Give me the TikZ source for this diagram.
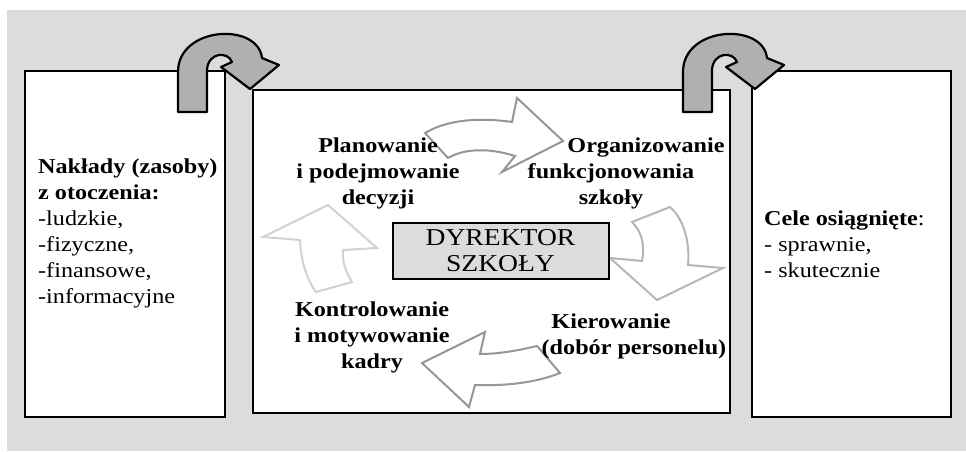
\documentclass[tikz,border=0pt]{standalone}
\usepackage{fontspec}
\setmainfont{Liberation Serif}[FakeStretch=1.14]

\definecolor{bggray}{RGB}{220,220,220}
\definecolor{loopgray}{RGB}{176,176,176}
\definecolor{darkrim}{RGB}{150,150,150}
\definecolor{midrim}{RGB}{182,182,182}
\definecolor{lightrim}{RGB}{210,210,210}

\begin{document}
\begin{tikzpicture} [
            x=1pt,
            y=-1pt,
            panel/.style = {draw=black, line width=2.5pt, fill=white},
            loop arrow/.style = {draw=black, line width=2.2pt, fill=loopgray, line join=round},
            cycle arrow/.style = {draw=#1, line width=2pt, fill=white, line join=miter},
            stage/.style = {inner sep=0pt, align=center, font=\fontsize{21.2}{26}\selectfont\bfseries},
            listtext/.style = {inner sep=0pt, align=left, font=\fontsize{21.2}{26}\selectfont},
            head/.style = {draw=black, line width=2pt, fill=bggray, inner sep=0pt,
                minimum width=216pt, minimum height=56pt, align=center,
                font=\fontsize{24.2}{26}\selectfont}
        ]
        \useasboundingbox (0,0) rectangle (966,451);
        % grey sheet behind everything
        \fill[bggray] (7,10) rectangle (966,451);
        % the three panels
        \foreach \xa/\ya/\xb/\yb in {
                25/71/225/417,
                253/90/730/413,
                752/71/951/417}
            \draw[panel] (\xa,\ya) rectangle (\xb,\yb);
        % loop arrows over the gaps
        \foreach \dx in {0, 505}
            \draw[loop arrow, xshift=\dx] (178,112) -- (178,72)
                .. controls (178,26) and (258,22) .. (262,58)
                -- (279,65) -- (250,89) -- (221,67) -- (232,62)
                .. controls (228,51) and (208,52) .. (207,70)
                -- (207,112) -- cycle;
        % hollow arrows of the management cycle
        \draw[cycle arrow=darkrim] (425,133) .. controls (450,118) and (485,118) .. (512,122)
            -- (517,98) -- (563,141) -- (502,172) -- (515,156)
            .. controls (490,148) and (465,148) .. (448,158) -- cycle;
        \draw[cycle arrow=midrim] (632,222) -- (670,207)
            .. controls (685,220) and (690,245) .. (688,265)
            -- (723,268) -- (657,300) -- (610,258) -- (642,261)
            .. controls (645,245) and (642,232) .. (632,222) -- cycle;
        \draw[cycle arrow=darkrim] (537,346) -- (560,373)
            .. controls (535,383) and (505,386) .. (475,385)
            -- (469,407) -- (422,363) -- (485,332) -- (480,354)
            .. controls (500,354) and (520,350) .. (537,346) -- cycle;
        \draw[cycle arrow=lightrim] (328,205) -- (377,248) -- (343,250)
            .. controls (342,262) and (346,272) .. (352,282)
            -- (316,292) .. controls (306,278) and (301,260) .. (300,240)
            -- (263,237) -- cycle;
        % texts
        \node[head] (head) at (500.5,251) {DYREKTOR\\SZKOŁY};
        \node[listtext, anchor=north west] (inputs) at (38,158.4)
            {\textbf{Nakłady (zasoby)}\\\textbf{z otoczenia:}\\-ludzkie,\\-fizyczne,\\-finansowe,\\-informacyjne};
        \node[listtext, anchor=north west] (goals) at (764,210.6)
            {\textbf{Cele osiągnięte}:\\- sprawnie,\\- skutecznie};
        \node[stage, anchor=north] (plan) at (378,137.6) {Planowanie\\i podejmowanie\\decyzji};
        \node[stage, anchor=north] (organize) at (611,137.6) {\hspace*{70pt}Organizowanie\\funkcjonowania\\szkoły};
        \node[stage, anchor=north] (lead) at (634,313.6) {Kierowanie\hspace*{46pt}\\(dobór personelu)};
        \node[stage, anchor=north] (control) at (372,301.6) {Kontrolowanie\\i motywowanie\\kadry};
    \end{tikzpicture}
\end{document}
